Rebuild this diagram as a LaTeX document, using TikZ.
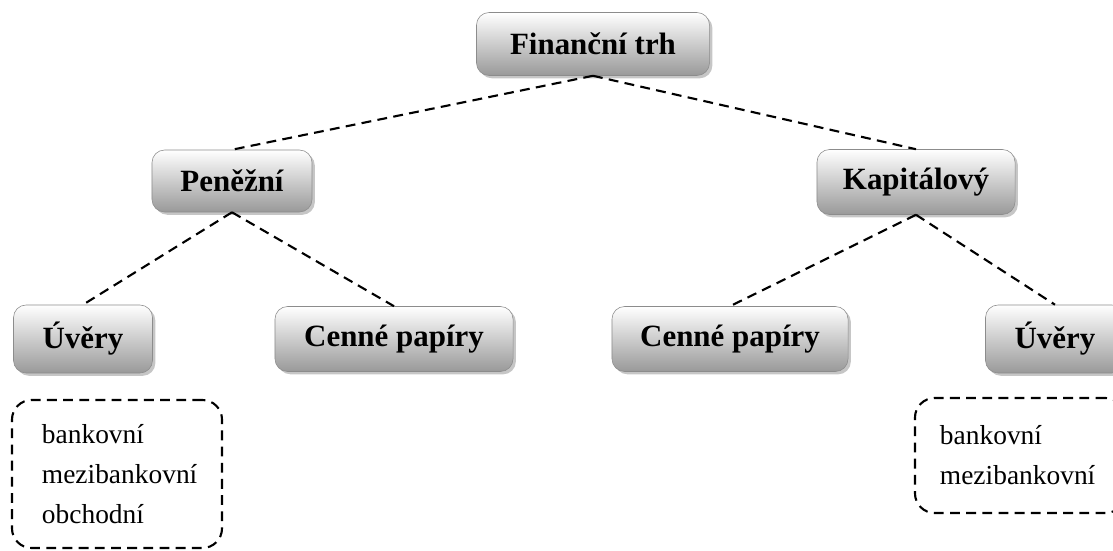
\documentclass[tikz,border=0pt]{standalone}
\usepackage{fontspec}
\setmainfont{Liberation Serif}
\usetikzlibrary{shadows}

\tikzset{
  marketbox/.style={draw=black!45, rounded corners=9pt, top color=white, bottom color=black!40,
    drop shadow={shadow xshift=2pt, shadow yshift=-2pt, opacity=.45},
    font=\fontsize{22}{26}\selectfont\bfseries, inner sep=0pt},
  listbox/.style={draw, line width=1.5pt, dash pattern=on 7pt off 4.5pt, rounded corners=14pt,
    align=left, font=\fontsize{19.5}{28.5}\selectfont, inner xsep=0pt, inner ysep=0pt},
  link/.style={line width=1.5pt, dash pattern=on 7pt off 4.5pt}
}

\begin{document}
\begin{tikzpicture}[x=0.025cm, y=-0.025cm]
\useasboundingbox (0,0) rectangle (1113,551);
\clip (0,0) rectangle (1113,551);
% top level
\node[marketbox, minimum width=5.825cm, minimum height=1.575cm] (trh) at (593,44) {Finanční trh};
% second level
\node[marketbox, minimum width=4.0cm, minimum height=1.55cm] (penezni) at (232,181) {Peněžní};
\node[marketbox, minimum width=4.95cm, minimum height=1.625cm] (kapital) at (916,182) {Kapitálový};
% third level
\node[marketbox, minimum width=3.475cm, minimum height=1.7cm] (uveryL) at (83,339) {Úvěry};
\node[marketbox, minimum width=5.95cm, minimum height=1.625cm] (cenneL) at (394,339) {Cenné papíry};
\node[marketbox, minimum width=5.9cm, minimum height=1.625cm] (cenneR) at (730,339) {Cenné papíry};
\node[marketbox, minimum width=3.475cm, minimum height=1.7cm] (uveryR) at (1055,339) {Úvěry};
% lists
\node[listbox, minimum width=5.25cm, minimum height=3.7cm, text width=3.75cm] (listL) at (117,474)
  {bankovní\\mezibankovní\\obchodní};
\node[listbox, minimum width=5.25cm, minimum height=2.875cm, text width=4cm] (listR) at (1020,455.5)
  {bankovní\\mezibankovní};
% connectors
\draw[link] (trh.south) -- (penezni.north);
\draw[link] (trh.south) -- (kapital.north);
\draw[link] (penezni.south) -- (uveryL.north);
\draw[link] (penezni.south) -- (cenneL.north);
\draw[link] (kapital.south) -- (cenneR.north);
\draw[link] (kapital.south) -- (uveryR.north);
\end{tikzpicture}
\end{document}
